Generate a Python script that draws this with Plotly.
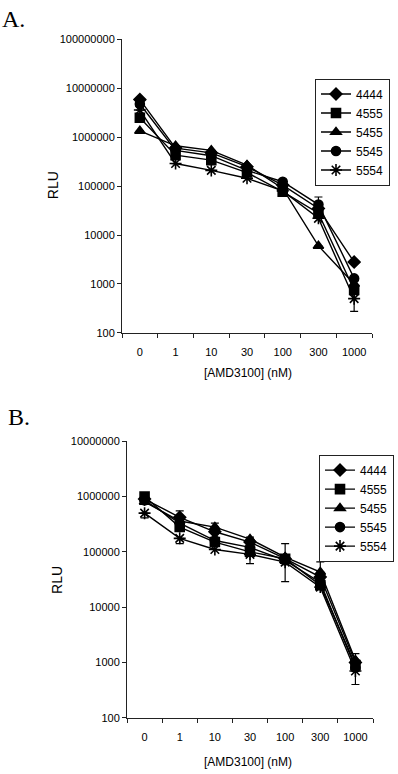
import plotly.graph_objects as go

# ---------------- data ----------------
categories = ["0", "1", "10", "30", "100", "300", "1000"]
series_names = ["4444", "4555", "5455", "5545", "5554"]

# Panel A (RLU)
a_4444 = [5.9e6, 6.0e5, 4.8e5, 2.5e5, 1.05e5, 3.5e4, 2.8e3]
a_4555 = [2.5e6, 4.3e5, 3.4e5, 1.9e5, 7.7e4, 2.8e4, 750]
a_5455 = [1.35e6, 6.7e5, 5.4e5, 2.7e5, 9.0e4, 6.0e3, 1.0e3]
a_5545 = [4.8e6, 5.4e5, 4.2e5, 2.1e5, 1.23e5, 4.2e4, 1.3e3]
a_5554 = [3.6e6, 2.9e5, 2.1e5, 1.45e5, 8.0e4, 2.2e4, 500]
a_err_plus = {
    "4444": [0, 0, 0, 0, 0, 0, 0],
    "4555": [0, 0, 0, 0, 0, 0, 0],
    "5455": [0, 0, 0, 0, 0, 0, 0],
    "5545": [0, 0, 0, 0, 0, 1.8e4, 0],
    "5554": [0, 0, 0, 0, 0, 0, 300],
}
a_err_minus = {
    "4444": [0, 0, 0, 0, 0, 0, 0],
    "4555": [0, 0, 0, 0, 0, 0, 0],
    "5455": [0, 0, 0, 0, 0, 0, 0],
    "5545": [0, 0, 0, 0, 0, 0, 0],
    "5554": [0, 0, 0, 0, 0, 0, 225],
}

# Panel B (RLU)
b_4444 = [9.0e5, 4.2e5, 2.3e5, 1.5e5, 7.5e4, 3.5e4, 1000]
b_4555 = [1.0e6, 2.8e5, 1.5e5, 1.0e5, 7.5e4, 2.5e4, 900]
b_5455 = [8.0e5, 3.6e5, 2.8e5, 1.7e5, 8.0e4, 4.3e4, 1100]
b_5545 = [8.5e5, 3.3e5, 1.6e5, 1.2e5, 7.0e4, 2.8e4, 800]
b_5554 = [5.0e5, 1.75e5, 1.1e5, 9.0e4, 6.5e4, 2.3e4, 700]
b_err_plus = {
    "4444": [0, 1.3e5, 0, 0, 0, 0, 450],
    "4555": [0, 0, 0, 0, 6.5e4, 0, 0],
    "5455": [0, 0, 5e4, 1.5e4, 0, 2.3e4, 0],
    "5545": [0, 0, 0, 0, 0, 0, 0],
    "5554": [0, 0, 0, 0, 0, 0, 0],
}
b_err_minus = {
    "4444": [0, 0, 0, 0, 0, 0, 0],
    "4555": [0, 0, 0, 0, 4.6e4, 0, 0],
    "5455": [0, 0, 0, 0, 0, 0, 0],
    "5545": [0, 0, 0, 0, 0, 0, 0],
    "5554": [9e4, 3.5e4, 0, 2.9e4, 0, 0, 300],
}

a_series = [a_4444, a_4555, a_5455, a_5545, a_5554]
b_series = [b_4444, b_4555, b_5455, b_5545, b_5554]
symbols = ["diamond", "square", "triangle-up", "circle", "asterisk-open"]

a_tickvals = [1e2, 1e3, 1e4, 1e5, 1e6, 1e7, 1e8]
a_ticktext = ["100", "1000", "10000", "100000", "1000000", "10000000", "100000000"]
b_tickvals = [1e2, 1e3, 1e4, 1e5, 1e6, 1e7]
b_ticktext = ["100", "1000", "10000", "100000", "1000000", "10000000"]

# ---------------- figure ----------------
W, H = 398, 774
fig = go.Figure()

def px_x(p):
    return p / W

def px_y(p):
    return 1 - p / H

for name, ys, sym in zip(series_names, a_series, symbols):
    fig.add_trace(go.Scatter(
        x=categories, y=ys, name=name, xaxis="x", yaxis="y", legend="legend",
        mode="lines+markers",
        line=dict(color="black", width=1.4),
        marker=dict(symbol=sym, size=9 if sym != "asterisk-open" else 10,
                    color="black", line=dict(color="black", width=1.6)),
        error_y=dict(type="data", symmetric=False, array=a_err_plus[name],
                     arrayminus=a_err_minus[name], color="black",
                     thickness=1.2, width=4),
    ))

for name, ys, sym in zip(series_names, b_series, symbols):
    fig.add_trace(go.Scatter(
        x=categories, y=ys, name=name, xaxis="x2", yaxis="y2", legend="legend2",
        mode="lines+markers",
        line=dict(color="black", width=1.4),
        marker=dict(symbol=sym, size=9 if sym != "asterisk-open" else 10,
                    color="black", line=dict(color="black", width=1.6)),
        error_y=dict(type="data", symmetric=False, array=b_err_plus[name],
                     arrayminus=b_err_minus[name], color="black",
                     thickness=1.2, width=4),
    ))

tick_font = dict(family="Liberation Sans, Arial, sans-serif", size=11, color="black")
axis_common = dict(showline=True, linecolor="#222", linewidth=1, ticks="outside",
                   ticklen=4, tickcolor="#222", showgrid=False, zeroline=False,
                   tickfont=tick_font, mirror=False)

legend_font = dict(family="Liberation Sans, Arial, sans-serif", size=12, color="black")

fig.update_layout(
    width=W, height=H,
    margin=dict(l=0, r=0, t=0, b=0),
    paper_bgcolor="white", plot_bgcolor="white",
    showlegend=True,
    xaxis=dict(domain=[px_x(122), px_x(372)], anchor="y", type="category",
               range=[-0.5, 6.5], tickson="boundaries", ticklabelstandoff=9,
               **axis_common),
    yaxis=dict(domain=[px_y(332), px_y(34)], anchor="x", type="log",
               range=[2, 8], tickvals=a_tickvals, ticktext=a_ticktext,
               **axis_common),
    xaxis2=dict(domain=[px_x(127), px_x(373)], anchor="y2", type="category",
                range=[-0.5, 6.5], tickson="boundaries", ticklabelstandoff=9,
                **axis_common),
    yaxis2=dict(domain=[px_y(723), px_y(442)], anchor="x2", type="log",
                range=[2, 7], tickvals=b_tickvals, ticktext=b_ticktext,
                **axis_common),
    legend=dict(x=px_x(315), y=px_y(128), xanchor="left", yanchor="middle",
                bgcolor="white", bordercolor="#222", borderwidth=1,
                font=legend_font, itemwidth=30, tracegroupgap=0),
    legend2=dict(x=px_x(319), y=px_y(510), xanchor="left", yanchor="middle",
                 bgcolor="white", bordercolor="#222", borderwidth=1,
                 font=legend_font, itemwidth=30, tracegroupgap=0),
)

annots = [
    dict(text="A.", x=px_x(0), y=px_y(13), xanchor="left", yanchor="middle",
         font=dict(family="Liberation Serif, Times New Roman, serif", size=24, color="black")),
    dict(text="B.", x=px_x(6), y=px_y(417), xanchor="left", yanchor="middle",
         font=dict(family="Liberation Serif, Times New Roman, serif", size=24, color="black")),
    dict(text="RLU", x=px_x(53), y=px_y(182), xanchor="center", yanchor="middle", textangle=-90,
         font=dict(family="Liberation Sans, Arial, sans-serif", size=14, color="black")),
    dict(text="RLU", x=px_x(57), y=px_y(583), xanchor="center", yanchor="middle", textangle=-90,
         font=dict(family="Liberation Sans, Arial, sans-serif", size=14, color="black")),
    dict(text="[AMD3100] (nM)", x=px_x(248), y=px_y(373), xanchor="center", yanchor="middle",
         font=dict(family="Liberation Sans, Arial, sans-serif", size=12, color="black")),
    dict(text="[AMD3100] (nM)", x=px_x(248), y=px_y(768), xanchor="center", yanchor="middle",
         font=dict(family="Liberation Sans, Arial, sans-serif", size=12, color="black")),
]
for a in annots:
    a.update(xref="paper", yref="paper", showarrow=False)
    fig.add_annotation(**a)

fig.write_html("out.html")
